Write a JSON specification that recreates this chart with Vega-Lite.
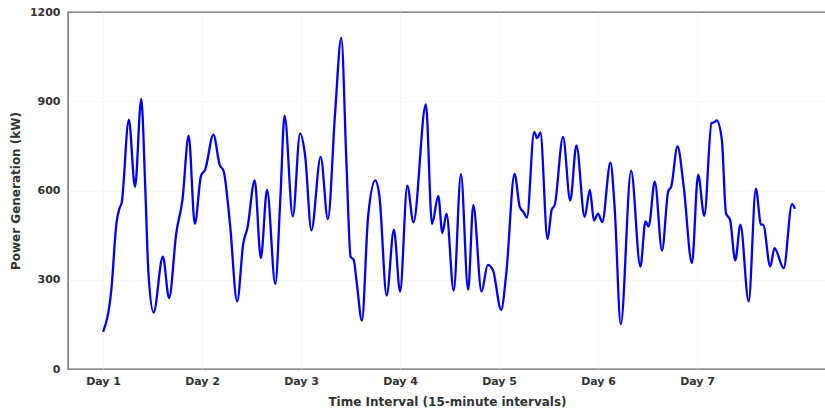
{
  "$schema": "https://vega.github.io/schema/vega-lite/v6.json",
  "autosize": {"type": "none"},
  "padding": {"left": 68, "top": 12, "right": 0, "bottom": 45},
  "width": 758,
  "height": 357,
  "background": "white",
  "config": {
    "font": "DejaVu Sans",
    "view": {"stroke": "#666666", "strokeWidth": 1.4},
    "axis": {
      "domain": false,
      "ticks": false,
      "grid": true,
      "gridColor": "#ececec",
      "gridWidth": 0.8,
      "gridDash": [2, 2],
      "labelFont": "DejaVu Sans",
      "labelFontWeight": "bold",
      "labelFontSize": 11,
      "labelColor": "#333333",
      "titleFont": "DejaVu Sans",
      "titleFontWeight": "bold",
      "titleFontSize": 12,
      "titleColor": "#333333"
    }
  },
  "data": {
    "values": [
      {"interval": 0, "power": 125},
      {"interval": 8, "power": 266},
      {"interval": 13, "power": 490},
      {"interval": 16, "power": 541},
      {"interval": 18, "power": 558},
      {"interval": 25, "power": 838},
      {"interval": 31, "power": 612},
      {"interval": 37, "power": 908},
      {"interval": 41, "power": 602},
      {"interval": 44, "power": 322},
      {"interval": 49, "power": 190},
      {"interval": 58, "power": 378},
      {"interval": 64, "power": 238},
      {"interval": 71, "power": 457},
      {"interval": 77, "power": 569},
      {"interval": 83, "power": 784},
      {"interval": 89, "power": 488},
      {"interval": 95, "power": 650},
      {"interval": 99, "power": 670},
      {"interval": 107, "power": 788},
      {"interval": 113, "power": 687},
      {"interval": 117, "power": 664},
      {"interval": 123, "power": 490},
      {"interval": 130, "power": 227},
      {"interval": 136, "power": 423},
      {"interval": 140, "power": 474},
      {"interval": 147, "power": 634},
      {"interval": 153, "power": 373},
      {"interval": 159, "power": 602},
      {"interval": 167, "power": 286},
      {"interval": 172, "power": 580},
      {"interval": 176, "power": 852},
      {"interval": 184, "power": 513},
      {"interval": 191, "power": 791},
      {"interval": 196, "power": 715},
      {"interval": 202, "power": 466},
      {"interval": 211, "power": 713},
      {"interval": 218, "power": 504},
      {"interval": 225, "power": 861},
      {"interval": 231, "power": 1113},
      {"interval": 236, "power": 692},
      {"interval": 240, "power": 378},
      {"interval": 243, "power": 367},
      {"interval": 246, "power": 289},
      {"interval": 251, "power": 163},
      {"interval": 257, "power": 513},
      {"interval": 264, "power": 634},
      {"interval": 268, "power": 580},
      {"interval": 275, "power": 247},
      {"interval": 282, "power": 468},
      {"interval": 288, "power": 260},
      {"interval": 295, "power": 616},
      {"interval": 301, "power": 493},
      {"interval": 313, "power": 889},
      {"interval": 319, "power": 488},
      {"interval": 325, "power": 582},
      {"interval": 329, "power": 457},
      {"interval": 333, "power": 522},
      {"interval": 340, "power": 263},
      {"interval": 347, "power": 655},
      {"interval": 354, "power": 266},
      {"interval": 359, "power": 552},
      {"interval": 367, "power": 260},
      {"interval": 373, "power": 350},
      {"interval": 378, "power": 333},
      {"interval": 386, "power": 199},
      {"interval": 391, "power": 322},
      {"interval": 399, "power": 656},
      {"interval": 404, "power": 546},
      {"interval": 408, "power": 526},
      {"interval": 411, "power": 509},
      {"interval": 418, "power": 797},
      {"interval": 421, "power": 776},
      {"interval": 424, "power": 795},
      {"interval": 431, "power": 437},
      {"interval": 435, "power": 535},
      {"interval": 438, "power": 552},
      {"interval": 446, "power": 780},
      {"interval": 453, "power": 566},
      {"interval": 459, "power": 752},
      {"interval": 467, "power": 511},
      {"interval": 472, "power": 602},
      {"interval": 476, "power": 499},
      {"interval": 480, "power": 522},
      {"interval": 484, "power": 494},
      {"interval": 492, "power": 694},
      {"interval": 496, "power": 546},
      {"interval": 502, "power": 151},
      {"interval": 512, "power": 667},
      {"interval": 521, "power": 344},
      {"interval": 526, "power": 496},
      {"interval": 529, "power": 479},
      {"interval": 535, "power": 630},
      {"interval": 542, "power": 398},
      {"interval": 548, "power": 597},
      {"interval": 551, "power": 614},
      {"interval": 557, "power": 748},
      {"interval": 563, "power": 614},
      {"interval": 571, "power": 356},
      {"interval": 577, "power": 653},
      {"interval": 583, "power": 515},
      {"interval": 590, "power": 827},
      {"interval": 593, "power": 830},
      {"interval": 595, "power": 836},
      {"interval": 600, "power": 771},
      {"interval": 604, "power": 524},
      {"interval": 608, "power": 501},
      {"interval": 613, "power": 365},
      {"interval": 618, "power": 485},
      {"interval": 626, "power": 227},
      {"interval": 633, "power": 606},
      {"interval": 638, "power": 485},
      {"interval": 640, "power": 485},
      {"interval": 647, "power": 344},
      {"interval": 651, "power": 406},
      {"interval": 660, "power": 339},
      {"interval": 668, "power": 554},
      {"interval": 671, "power": 539}
    ]
  },
  "mark": {
    "type": "line",
    "interpolate": "monotone",
    "color": "#0000ff",
    "strokeWidth": 2.3,
    "clip": true
  },
  "encoding": {
    "x": {
      "field": "interval",
      "type": "quantitative",
      "scale": {"domain": [-34, 701], "nice": false, "zero": false},
      "axis": {
        "title": "Time Interval (15-minute intervals)",
        "values": [0, 96, 192, 288, 384, 480, 576],
        "labelExpr": "'Day ' + (datum.value / 96 + 1)",
        "labelPadding": 6,
        "titlePadding": 10
      }
    },
    "y": {
      "field": "power",
      "type": "quantitative",
      "scale": {"domain": [0, 1200], "nice": false},
      "axis": {
        "title": "Power Generation (kW)",
        "values": [0, 300, 600, 900, 1200],
        "format": "d",
        "labelPadding": 8,
        "titlePadding": 7,
        "gridOpacity": {
          "condition": {"test": "datum.value === 0 || datum.value === 1200", "value": 0},
          "value": 1
        }
      }
    }
  }
}
